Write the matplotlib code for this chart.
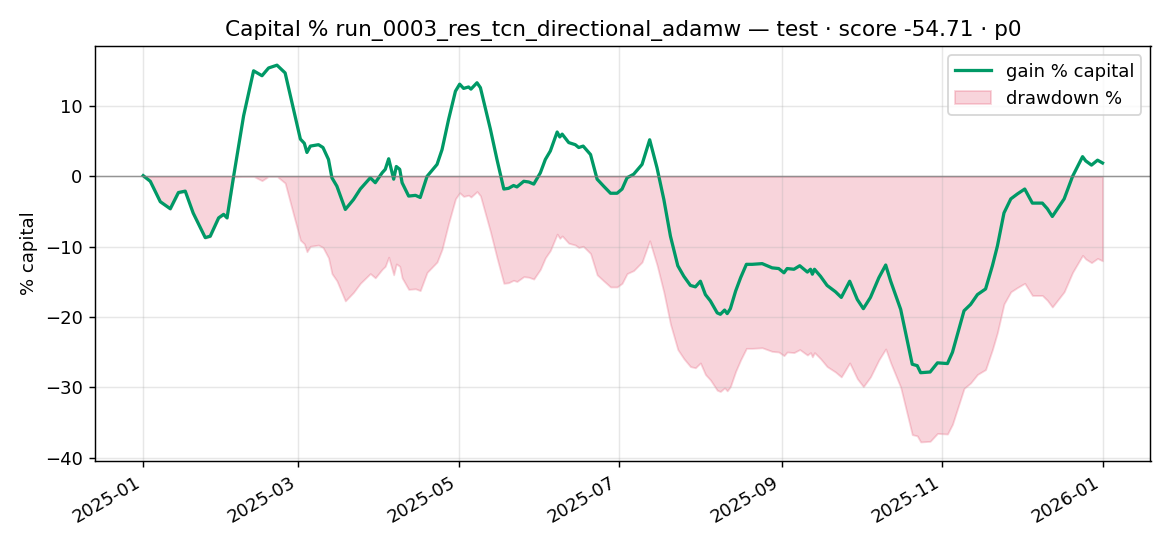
import numpy as np
import pandas as pd
import matplotlib
matplotlib.use("Agg")
import matplotlib.pyplot as plt

# gain % of capital (days since 2025-01-01)
day_offset = [0, 2.7, 6.5, 10.3, 13.4, 16, 19, 23.6, 25.5, 28.7, 30.6, 31.9,
              34.4, 38.2, 42, 45.2, 47.7, 50.9, 54, 57.2, 59.8, 61.3, 62.3,
              63.6, 66.7, 68.4, 70.5, 71.8, 73.7, 76.9, 80, 82.6, 86.4, 88.3,
              90.9, 92.1, 93.4, 95.3, 96.3, 97.6, 98.5, 101, 103.6, 105.4, 108,
              111.8, 113.7, 116.2, 118.8, 120.4, 121.9, 123.8, 124.7, 127,
              128.3, 132.1, 134.6, 137.2, 139, 140.9, 142.2, 144.8, 146.7,
              148.6, 151.1, 153, 154.9, 157.5, 158.5, 159.4, 161.9, 164.4,
              165.7, 167.4, 170.2, 172.7, 175.2, 177.8, 180.3, 182.2, 184.1,
              186.6, 189.8, 192.7, 195.5, 198.1, 200.6, 203.4, 205.7, 208.2,
              210.1, 212, 213.9, 215.8, 218.4, 219.6, 221.2, 222.2, 223.4,
              225.4, 227.3, 229.5, 231.7, 235.5, 239.3, 241.8, 243.8, 245,
              247.6, 249.8, 252.7, 253.9, 254.6, 255.4, 257.7, 260.2, 263.4,
              265.6, 268.8, 271.7, 274, 276.7, 279.9, 282.5, 284.4, 288.2,
              292.6, 294.5, 295.8, 299.4, 302.2, 306, 307.9, 312.3, 314.8,
              317.4, 320.5, 323.1, 325, 327.5, 330.1, 332.6, 335.4, 338.3,
              342.1, 344, 345.9, 350.4, 353.6, 357.4, 358.6, 360.8, 363.1, 365]
gain = [0.1, -0.7, -3.6, -4.6, -2.3, -2.1, -5.2, -8.7, -8.5, -5.9, -5.4, -5.9,
        0.0, 8.6, 15.0, 14.3, 15.4, 15.8, 14.7, 9.5, 5.3, 4.7, 3.4,
        4.3, 4.5, 4.1, 2.4, -0.2, -1.4, -4.7, -3.3, -1.8, -0.2, -0.9,
        0.5, 1.0, 2.5, -0.4, 1.4, 1.0, -0.9, -2.8, -2.7, -3.0, 0.0,
        1.7, 3.8, 8.1, 12.1, 13.1, 12.5, 12.7, 12.4, 13.3,
        12.6, 6.7, 2.4, -1.8, -1.7, -1.3, -1.5, -0.7, -0.8,
        -1.1, 0.5, 2.4, 3.6, 6.3, 5.6, 6.0, 4.8, 4.5,
        4.1, 4.3, 3.1, -0.4, -1.4, -2.4, -2.4, -1.8, -0.2,
        0.3, 1.7, 5.2, 1.2, -3.3, -8.5, -12.7, -14.2, -15.5,
        -15.7, -14.9, -16.8, -17.7, -19.4, -19.6, -19.0, -19.5, -18.8,
        -16.3, -14.4, -12.5, -12.5, -12.4, -13.0, -13.1, -13.7, -13.1,
        -13.2, -12.7, -13.6, -13.2, -13.9, -13.2, -14.2, -15.5, -16.4,
        -17.2, -14.9, -17.5, -18.8, -17.2, -14.4, -12.6, -14.9, -18.9,
        -26.7, -26.9, -27.9, -27.8, -26.5, -26.6, -25.0, -19.1, -18.2,
        -16.8, -16.0, -12.7, -9.9, -5.2, -3.2, -2.5, -1.8, -3.8,
        -3.8, -4.6, -5.7, -3.2, 0.0, 2.8, 2.2, 1.6, 2.3, 1.9]

title = "Capital % run_0003_res_tcn_directional_adamw \u2014 test \u00b7 score -54.71 \u00b7 p0"

dates = pd.Timestamp("2025-01-01") + pd.to_timedelta(np.array(day_offset), unit="D")
g = np.array(gain)
# drawdown relative to the running peak of capital
peak = np.maximum.accumulate(np.maximum(g, 0.0))
drawdown = ((1 + g / 100) / (1 + peak / 100) - 1) * 100

fig, ax = plt.subplots(figsize=(9, 4.2), dpi=130)
ax.plot(dates, g, color="#009966", lw=1.8, label="gain % capital")
ax.fill_between(dates, drawdown, 0, color="crimson", alpha=0.18, label="drawdown %")
ax.axhline(0, color="gray", lw=0.8, alpha=0.8)
ax.grid(alpha=0.3)
ax.set_ylabel("% capital")
ax.set_title(title)
ax.legend(loc="upper right")
fig.autofmt_xdate()
fig.tight_layout()
fig.savefig("out.png")
